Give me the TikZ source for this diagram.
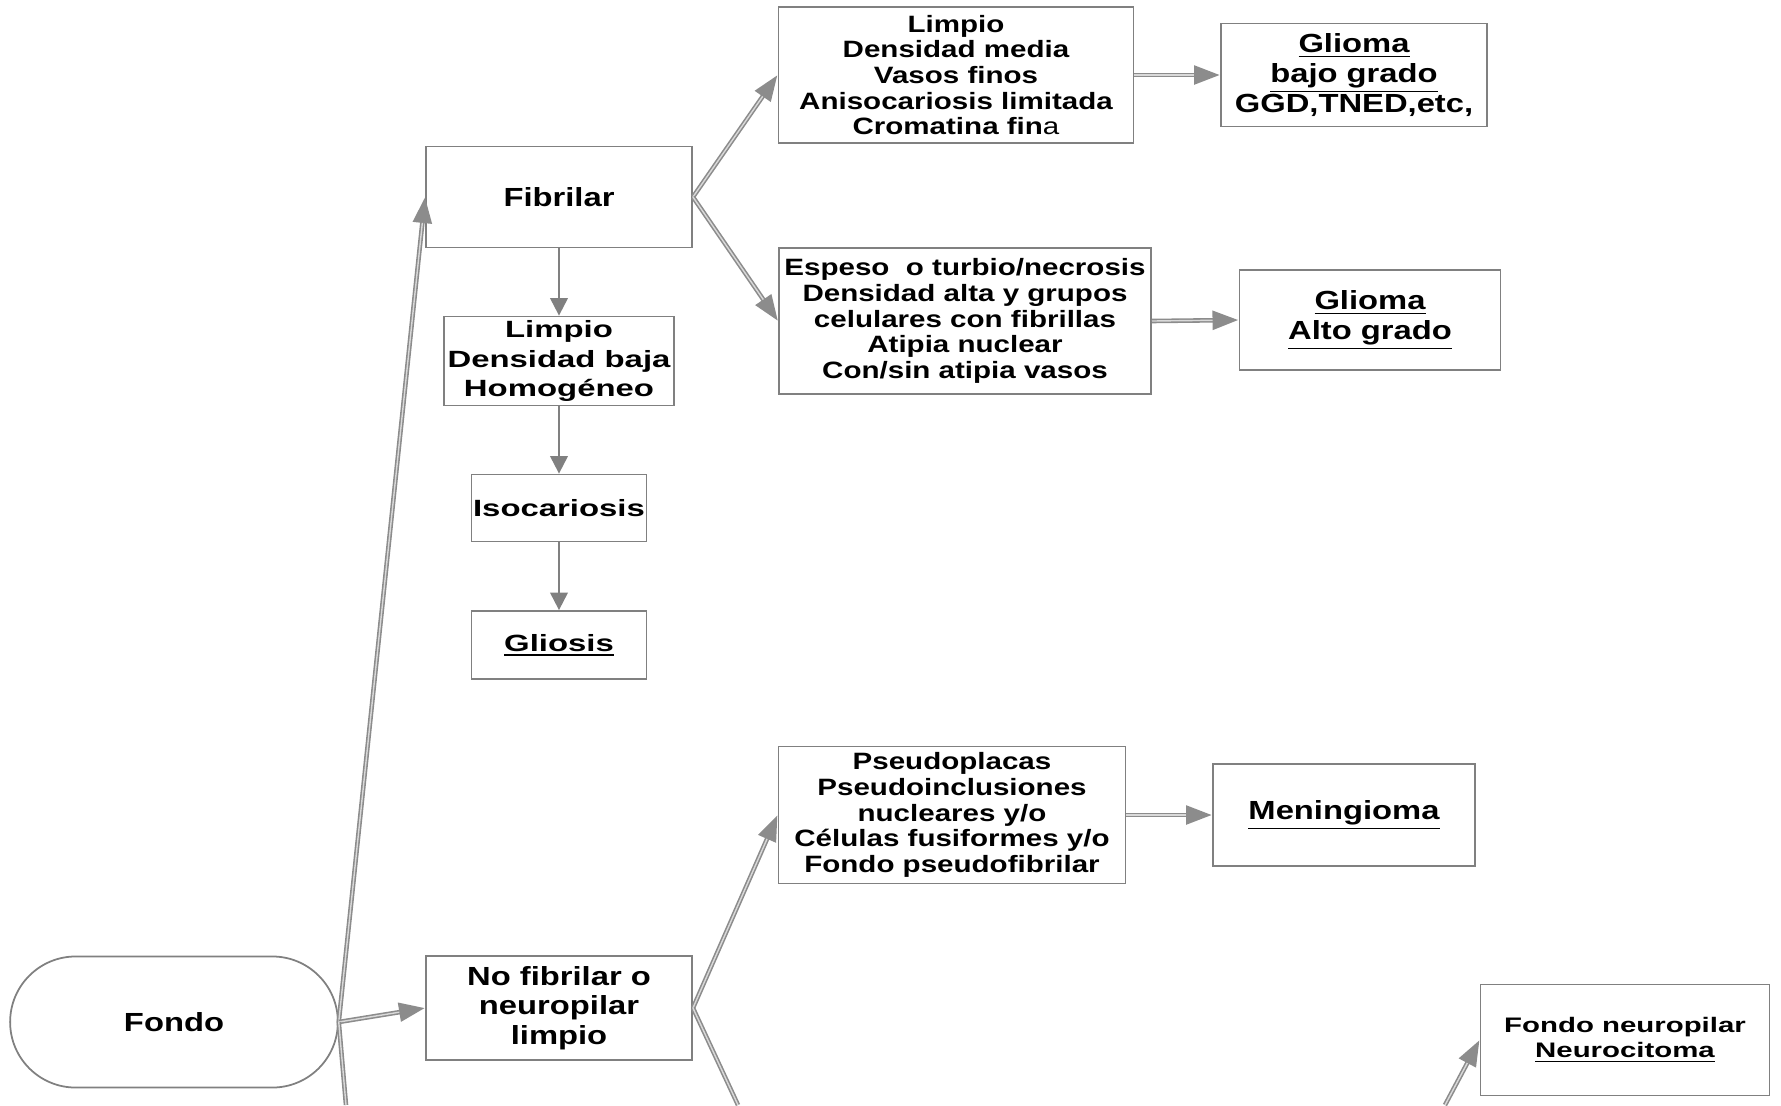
\documentclass[tikz,border=0pt]{standalone}
\usepackage{fontspec}
\setmainfont{Liberation Sans}[FakeStretch=1.25]
\newfontfamily\widefont{Liberation Sans}[FakeStretch=1.4]
\usetikzlibrary{arrows.meta,shapes.misc}
\newcommand{\tightlines}{\lineskiplimit=-100pt\relax\lineskip=0pt\relax}
\newcommand{\undl}[1]{\setbox0=\hbox{#1}\dimen0=\dp0\relax\advance\dimen0 by 0.8pt\relax
  \rlap{\vrule width\wd0 height-\dimen0 depth\dimexpr\dimen0+0.4pt\relax}\box0}

\begin{document}
\begin{tikzpicture}[x=0.01cm, y=-0.01cm,
  box/.style={draw=gray, line width=0.5pt, align=center, inner sep=0pt,
    font=\fontsize{7.45}{8.4}\selectfont\bfseries\tightlines},
  listbox/.style={box, font=\fontsize{6.72}{7.3}\selectfont\bfseries\tightlines},
  widebox/.style={box, font=\widefont\fontsize{6.68}{8.4}\selectfont\bfseries\tightlines},
  pipe/.style={draw=gray!90, line width=1.3pt,
    postaction={draw=gray!30, line width=0.4pt}},
  link/.style={draw=gray!90, line width=1.3pt, -{Triangle[length=7.4pt,width=5.2pt]},
    postaction={draw=gray!30, line width=0.4pt, -, shorten >=7.4pt}},
  down/.style={draw=gray, line width=0.6pt, -{Triangle[length=5pt,width=5pt]}}]
  \useasboundingbox (0,0) rectangle (1781,1105);

  % start
  \node[rounded rectangle, draw=gray, line width=0.5pt, minimum width=3.51cm,
    minimum height=1.31cm, font=\fontsize{7.45}{8.4}\selectfont\bfseries] (fondo) at (174,1022) {Fondo};

  % fibrilar branch
  \node[box, minimum width=2.66cm, minimum height=1.01cm] (fib) at (559,197) {Fibrilar};
  \node[widebox, minimum width=2.30cm, minimum height=0.89cm] (limb) at (559,361)
    {Limpio\\Densidad baja\\Homogéneo};
  \node[widebox, minimum width=1.75cm, minimum height=0.67cm] (iso) at (559,508) {Isocariosis};
  \node[widebox, minimum width=1.75cm, minimum height=0.68cm] (glio) at (559,645) {\undl{Gliosis}};
  \node[listbox, minimum width=3.55cm, minimum height=1.36cm] (limm) at (956,75)
    {Limpio\\Densidad media\\Vasos finos\\Anisocariosis limitada\\Cromatina fin{\mdseries a}};
  \node[box, minimum width=2.66cm, minimum height=1.03cm] (bajo) at (1354,75)
    {\undl{Glioma}\\\undl{bajo grado}\\GGD,TNED,etc,};
  \node[listbox, minimum width=3.72cm, minimum height=1.46cm] (esp) at (965,321)
    {Espeso\ \ o turbio/necrosis\\Densidad alta y grupos\\celulares con fibrillas\\Atipia nuclear\\Con/sin atipia vasos};
  \node[box, minimum width=2.61cm, minimum height=1.00cm] (alto) at (1370,320)
    {\undl{Glioma}\\\undl{Alto grado}};

  % no fibrilar branch
  \node[box, minimum width=2.66cm, minimum height=1.04cm] (nofib) at (559,1008)
    {No fibrilar o\\neuropilar\\limpio};
  \node[listbox, minimum width=3.47cm, minimum height=1.37cm] (pseudo) at (952,815)
    {Pseudoplacas\\Pseudoinclusiones\\nucleares y/o\\Células fusiformes y/o\\Fondo pseudofibrilar};
  \node[box, minimum width=2.62cm, minimum height=1.02cm] (menin) at (1344,815) {\undl{Meningioma}};
  \node[box, minimum width=2.89cm, minimum height=1.11cm,
    font=\widefont\fontsize{5.97}{7.1}\selectfont\bfseries\tightlines] (neuro) at (1625,1040)
    {Fondo neuropilar\\\undl{Neurocitoma}};

  \coordinate (fondoout) at (346,1105);
  \coordinate (nofibout) at (738,1105);
  \coordinate (neuroin) at (1445,1105);

  % connectors
  \draw[link] (fondo.east) -- (fib.west);
  \draw[link] (fondo.east) -- (nofib.west);
  \draw[pipe] (fondo.east) -- (fondoout);
  \draw[link] (fib.east) -- (limm.west);
  \draw[link] (fib.east) -- (esp.west);
  \draw[down] (fib.south) -- (limb.north);
  \draw[down] (limb.south) -- (iso.north);
  \draw[down] (iso.south) -- (glio.north);
  \draw[link] (limm.east) -- (bajo.west);
  \draw[link] (esp.east) -- (alto.west);
  \draw[link] (nofib.east) -- (pseudo.west);
  \draw[pipe] (nofib.east) -- (nofibout);
  \draw[link] (pseudo.east) -- (menin.west);
  \draw[link] (neuroin) -- (neuro.west);
\end{tikzpicture}
\end{document}
